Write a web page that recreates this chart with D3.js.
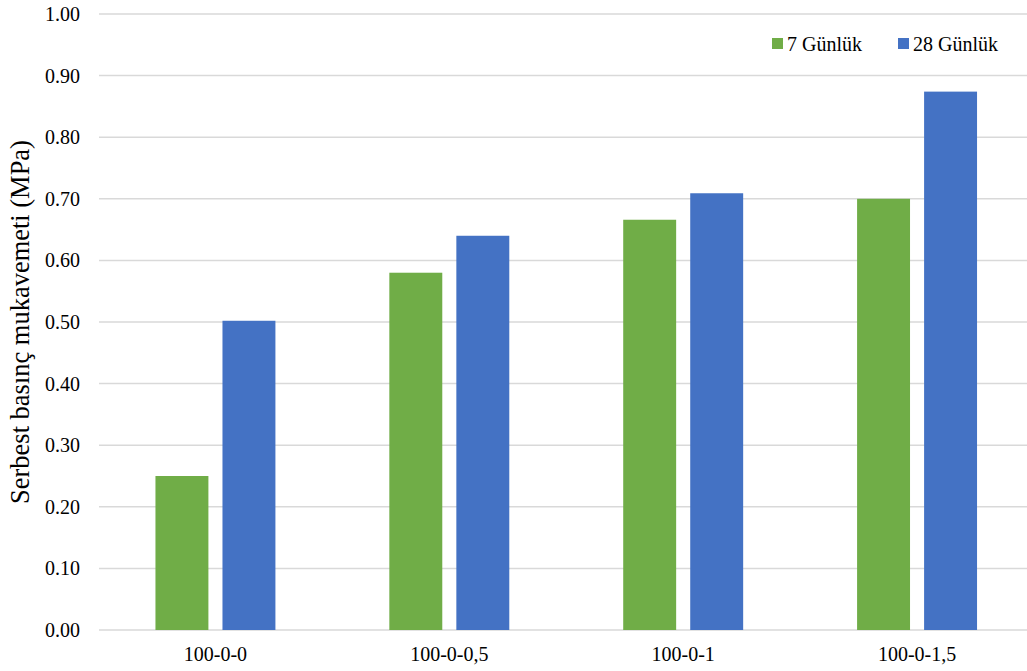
<!DOCTYPE html>
<html>
<head>
<meta charset="utf-8">
<script src="https://cdn.jsdelivr.net/npm/d3@7"></script>
<style>
  body { margin: 0; background: #fff; }
</style>
</head>
<body>
<svg id="chart" width="1027" height="671" font-family="'Liberation Serif', 'DejaVu Serif', serif"></svg>
<script>
// categories and the two series
var categories = ["100-0-0", "100-0-0,5", "100-0-1", "100-0-1,5"];
var seriesNames = ["7 Günlük", "28 Günlük"];
var gun7 = [0.25, 0.58, 0.666, 0.70];
var gun28 = [0.502, 0.64, 0.709, 0.874];
var seriesColors = ["#70ad47", "#4472c4"];
var yTicks = [0, 0.1, 0.2, 0.3, 0.4, 0.5, 0.6, 0.7, 0.8, 0.9, 1.0];

var svg = d3.select("#chart");
var plotLeft = 98.5, plotRight = 1034, plotTop = 14, plotBottom = 630;

var x0 = d3.scaleBand().domain(categories).range([plotLeft, plotRight]).padding(0);
var x1 = d3.scaleBand().domain(seriesNames).range([0, x0.bandwidth()])
  .paddingInner(0.21).paddingOuter(0.85);
var y = d3.scaleLinear().domain([0, 1]).range([plotBottom, plotTop]);

// gridlines (run off the right edge like the original)
svg.append("g").selectAll("line").data(yTicks).join("line")
  .attr("x1", 99).attr("x2", 1027)
  .attr("y1", d => y(d)).attr("y2", d => y(d))
  .attr("stroke", "#d9d9d9").attr("stroke-width", 1.5);

// y tick labels
svg.append("g").selectAll("text").data(yTicks).join("text")
  .attr("x", 80).attr("y", d => y(d)).attr("dy", "0.35em")
  .attr("text-anchor", "end").attr("font-size", 20)
  .text(d => d.toFixed(2));

// bars
var allSeries = [gun7, gun28];
categories.forEach(function(cat, i) {
  allSeries.forEach(function(vals, s) {
    svg.append("rect")
      .attr("x", x0(cat) + x1(seriesNames[s]))
      .attr("width", x1.bandwidth())
      .attr("y", y(vals[i]))
      .attr("height", y(0) - y(vals[i]))
      .attr("fill", seriesColors[s]);
  });
});

// x labels
svg.append("g").selectAll("text").data(categories).join("text")
  .attr("x", d => x0(d) + x0.bandwidth() / 2).attr("y", 661)
  .attr("text-anchor", "middle").attr("font-size", 20)
  .text(d => d);

// y axis title, sized so it spans the same length as in the picture
var title = svg.append("text")
  .attr("transform", "translate(29,322) rotate(-90)")
  .attr("text-anchor", "middle").attr("font-size", 20)
  .text("Serbest basınç mukavemeti (MPa)");
var len = title.node().getComputedTextLength();
title.attr("font-size", 20 * 364 / len);

// legend
var legendX = [772, 898];
seriesNames.forEach(function(name, s) {
  svg.append("rect").attr("x", legendX[s]).attr("y", 38)
    .attr("width", 11).attr("height", 11).attr("fill", seriesColors[s]);
  svg.append("text").attr("x", legendX[s] + 15).attr("y", 51)
    .attr("font-size", 20).text(name);
});
</script>
</body>
</html>
